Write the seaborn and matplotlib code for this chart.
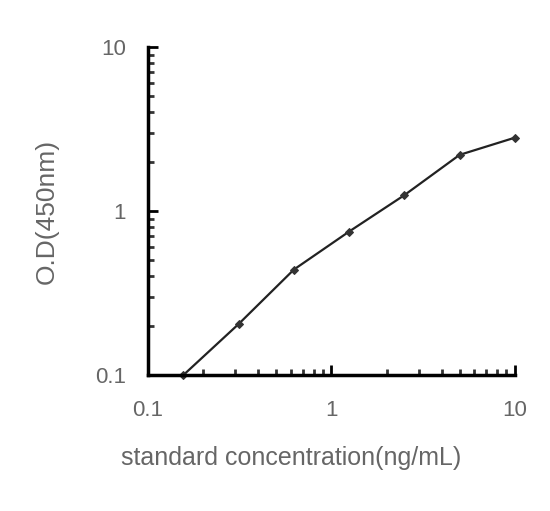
import matplotlib
matplotlib.use("Agg")
import matplotlib.pyplot as plt
import seaborn as sns
import pandas as pd
from matplotlib.ticker import LogLocator, NullFormatter, FixedLocator, FixedFormatter

# standard curve values
concentration = [0.156, 0.3125, 0.625, 1.25, 2.5, 5, 10]
od_450 = [0.1, 0.205, 0.44, 0.75, 1.25, 2.2, 2.8]

x_ticks = [0.1, 1, 10]
x_tick_labels = ["0.1", "1", "10"]
y_ticks = [0.1, 1, 10]
y_tick_labels = ["0.1", "1", "10"]

df = pd.DataFrame({"conc": concentration, "od": od_450})

sns.set_style("white")
plt.rcParams['font.family'] = ['Liberation Sans', 'DejaVu Sans']

fig = plt.figure(figsize=(5.5, 5.11), dpi=100)
ax = fig.add_axes([0.269, 0.266, 0.667, 0.642])

sns.lineplot(data=df, x="conc", y="od", ax=ax, color="#222222", linewidth=1.6,
             marker="D", markersize=4, markeredgecolor="#333333", markerfacecolor="#333333",
             clip_on=False)

ax.set_xscale("log")
ax.set_yscale("log")
ax.set_xlim(0.1, 10)
ax.set_ylim(0.1, 10)

ax.xaxis.set_major_locator(FixedLocator(x_ticks))
ax.xaxis.set_major_formatter(FixedFormatter(x_tick_labels))
ax.yaxis.set_major_locator(FixedLocator(y_ticks))
ax.yaxis.set_major_formatter(FixedFormatter(y_tick_labels))
ax.xaxis.set_minor_locator(LogLocator(base=10, subs=range(2, 10)))
ax.yaxis.set_minor_locator(LogLocator(base=10, subs=range(2, 10)))
ax.xaxis.set_minor_formatter(NullFormatter())
ax.yaxis.set_minor_formatter(NullFormatter())

for side in ["top", "right"]:
    ax.spines[side].set_visible(False)
for side in ["left", "bottom"]:
    ax.spines[side].set_linewidth(2.5)
    ax.spines[side].set_color("black")

ax.tick_params(which="both", bottom=True, left=True, top=False, right=False)
ax.tick_params(which="major", direction="in", length=7, width=2, color="black",
               labelsize=16, labelcolor="#666666", pad=18)
ax.tick_params(which="minor", direction="in", length=4, width=2, color="#333333")
ax.tick_params(axis="y", which="major", pad=16)

ax.set_xlabel("standard concentration(ng/mL)", fontsize=18, color="#666666")
ax.xaxis.set_label_coords(0.39, -0.215)
ax.set_ylabel("O.D(450nm)", fontsize=19, color="#666666", labelpad=26)

fig.savefig("out.png", dpi=100)
